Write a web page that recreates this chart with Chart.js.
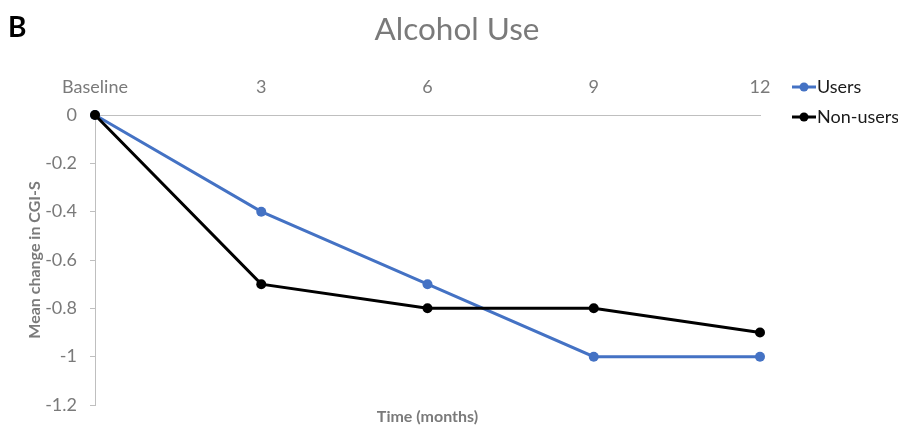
<!DOCTYPE html>
<html>
<head>
<meta charset="utf-8">
<style>
  html, body { margin: 0; padding: 0; background: #ffffff; }
  #wrap { position: relative; width: 898px; height: 425px; }
</style>
<script src="https://cdn.jsdelivr.net/npm/chart.js@4/dist/chart.umd.min.js"></script>
</head>
<body>
<div id="wrap"><canvas id="chart" width="898" height="425"></canvas></div>
<script>
// Follow-up points (months) and mean change in CGI-S per group
const timeLabels = ['Baseline', '3', '6', '9', '12'];
const usersValues = [0, -0.4, -0.7, -1, -1];
const nonUsersValues = [0, -0.7, -0.8, -0.8, -0.9];
const yTickValues = [0, -0.2, -0.4, -0.6, -0.8, -1, -1.2];
const yTickLabels = ['0', '-0.2', '-0.4', '-0.6', '-0.8', '-1', '-1.2'];

const chartTitle = 'Alcohol Use';
const panelLetter = 'B';
const yAxisTitle = 'Mean change in CGI-S';
const xAxisTitle = 'Time (months)';

const FONT = 'Lato, "Open Sans", sans-serif';
const GREY_TEXT = '#7a7a7a';
const AXIS_LINE = '#bfbfbf';

// Panel letter, chart title and the legend on the right
const decorations = {
  id: 'decorations',
  afterDraw(chart) {
    const ctx = chart.ctx;
    ctx.save();
    ctx.fillStyle = '#000';
    ctx.font = 'bold 28px ' + FONT;
    ctx.textAlign = 'left';
    ctx.textBaseline = 'alphabetic';
    ctx.fillText(panelLetter, 8, 37);

    ctx.fillStyle = GREY_TEXT;
    ctx.font = '31.5px ' + FONT;
    ctx.textAlign = 'center';
    ctx.fillText(chartTitle, 457, 40);

    const legendX = 792;
    const rows = [87, 117];
    chart.data.datasets.forEach((ds, i) => {
      const y = rows[i];
      ctx.strokeStyle = ds.borderColor;
      ctx.lineWidth = 3;
      ctx.beginPath();
      ctx.moveTo(legendX, y);
      ctx.lineTo(legendX + 24, y);
      ctx.stroke();
      ctx.fillStyle = ds.borderColor;
      ctx.beginPath();
      ctx.arc(legendX + 12, y, 4.5, 0, Math.PI * 2);
      ctx.fill();
      ctx.fillStyle = '#1a1a1a';
      ctx.font = '18px ' + FONT;
      ctx.textAlign = 'left';
      ctx.textBaseline = 'middle';
      ctx.fillText(ds.label, legendX + 25, y);
    });
    ctx.restore();
  }
};

new Chart(document.getElementById('chart'), {
  type: 'line',
  data: {
    labels: timeLabels,
    datasets: [
      {
        label: 'Users',
        data: usersValues,
        borderColor: '#4472c4',
        backgroundColor: '#4472c4',
        borderWidth: 3,
        pointRadius: 5,
        pointHoverRadius: 5,
        pointBorderWidth: 0,
        tension: 0,
        clip: false,
        order: 1
      },
      {
        label: 'Non-users',
        data: nonUsersValues,
        borderColor: '#000000',
        backgroundColor: '#000000',
        borderWidth: 3,
        pointRadius: 5,
        pointHoverRadius: 5,
        pointBorderWidth: 0,
        tension: 0,
        clip: false,
        order: 0
      }
    ]
  },
  options: {
    responsive: false,
    animation: false,
    layout: { autoPadding: false, padding: { left: 0, right: 138, top: 0, bottom: 0 } },
    plugins: {
      legend: { display: false },
      title: { display: false },
      tooltip: { enabled: false }
    },
    scales: {
      x: {
        type: 'category',
        position: 'top',
        offset: false,
        grid: { display: false, drawTicks: false },
        border: { display: true, color: AXIS_LINE, width: 1 },
        ticks: { color: GREY_TEXT, font: { family: FONT, size: 18 }, padding: 17, maxRotation: 0 },
        afterFit(scale) { scale.height = 115; }
      },
      x2: {
        type: 'category',
        position: 'bottom',
        offset: false,
        grid: { display: false, drawTicks: false },
        border: { display: false },
        ticks: { display: false },
        title: {
          display: true,
          text: xAxisTitle,
          color: GREY_TEXT,
          font: { family: FONT, size: 16, weight: 'bold' },
          padding: { top: 0, bottom: -1.5 }
        },
        afterFit(scale) { scale.height = 20; }
      },
      y: {
        min: -1.2,
        max: 0,
        grid: { drawOnChartArea: false, drawTicks: true, tickLength: 5, color: AXIS_LINE },
        border: { display: true, color: AXIS_LINE, width: 1 },
        ticks: {
          color: GREY_TEXT,
          font: { family: FONT, size: 18 },
          padding: 13,
          callback(value, index) { return yTickLabels[index]; }
        },
        afterBuildTicks(scale) { scale.ticks = yTickValues.map(v => ({ value: v })); },
        title: {
          display: true,
          text: yAxisTitle,
          color: GREY_TEXT,
          font: { family: FONT, size: 16, weight: 'bold' },
          padding: { top: 25, bottom: 0 }
        },
        afterFit(scale) {
          scale.width = 95;
          scale.paddingTop = 0;
          scale.paddingBottom = 0;
        }
      }
    }
  },
  plugins: [decorations]
});
</script>
</body>
</html>
